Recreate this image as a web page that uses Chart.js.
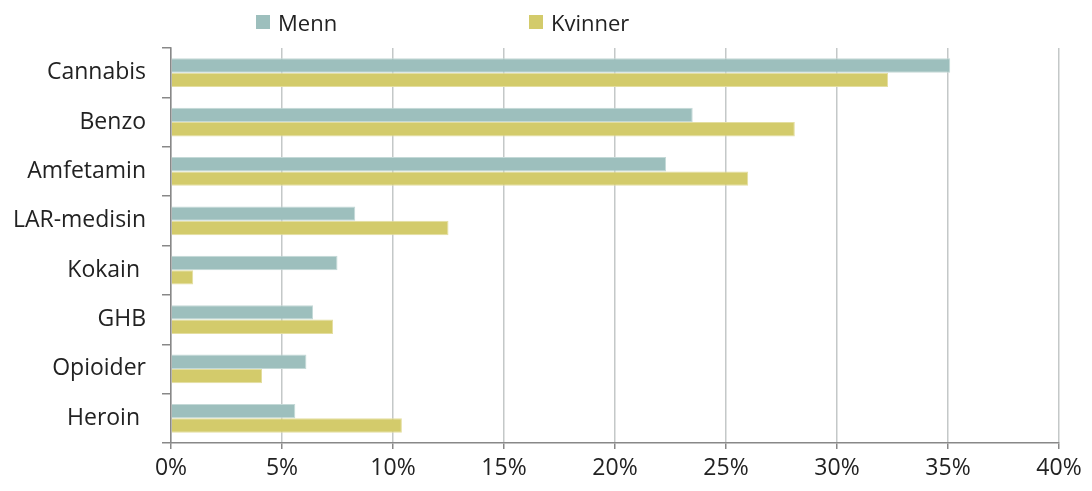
<!DOCTYPE html>
<html>
<head>
<meta charset="utf-8">
<script src="https://cdn.jsdelivr.net/npm/chart.js@4/dist/chart.umd.min.js"></script>
<style>
    body { margin: 0; background: #fff; }
    #wrap { position: relative; width: 1092px; height: 491px; }
    #legend { position: absolute; top: 6px; left: 0; width: 1092px; height: 32px;
              font-family: "Open Sans", sans-serif; font-size: 22px; color: #222; }
    .item { position: absolute; top: 0; display: flex; align-items: center; height: 32px; }
    .box { width: 14px; height: 14px; margin-right: 8px; }
</style>
</head>
<body>
<div id="wrap">
    <canvas id="chart" width="1092" height="491"></canvas>
    <div id="legend">
        <div class="item" style="left:256px"><span class="box" style="background:#9dbfbd"></span>Menn</div>
        <div class="item" style="left:529px"><span class="box" style="background:#d3cb6b"></span>Kvinner</div>
    </div>
</div>
<script>
"use strict";

const categories = ["Cannabis", "Benzo", "Amfetamin", "LAR-medisin", "Kokain ", "GHB", "Opioider", "Heroin "];
const menn = [35.1, 23.5, 22.3, 8.3, 7.5, 6.4, 6.1, 5.6];
const kvinner = [32.3, 28.1, 26.0, 12.5, 1.0, 7.3, 4.1, 10.4];
const xTicks = [0, 5, 10, 15, 20, 25, 30, 35, 40];

const font = { family: "'Open Sans', sans-serif", size: 23 };

let ctx = document.getElementById('chart').getContext('2d');
let myChart = new Chart(ctx, {
    type: 'bar',
    data: {
        labels: categories,
        datasets: [{
            label: 'Menn',
            data: menn,
            backgroundColor: '#9dbfbd',
            borderColor: '#c4d9d7',
            borderWidth: 1,
            categoryPercentage: 0.58,
            barPercentage: 1.0
        }, {
            label: 'Kvinner',
            data: kvinner,
            backgroundColor: '#d3cb6b',
            borderColor: '#e4dea0',
            borderWidth: 1,
            categoryPercentage: 0.58,
            barPercentage: 1.0
        }]
    },
    options: {
        indexAxis: 'y',
        responsive: false,
        animation: false,
        layout: { padding: { top: 48, right: 33, left: 0, bottom: 0 } },
        plugins: {
            legend: { display: false },
            tooltip: { enabled: false }
        },
        scales: {
            x: {
                min: 0,
                max: 40,
                afterBuildTicks: scale => {
                    scale.ticks = xTicks.map(v => ({ value: v }));
                },
                afterFit: scale => { scale.height = 48; },
                ticks: {
                    callback: v => v + '%',
                    font: font,
                    color: '#222',
                    padding: 6,
                    maxRotation: 0
                },
                grid: {
                    color: '#c4c8c8',
                    lineWidth: 1.5,
                    tickColor: '#888',
                    tickLength: 6
                },
                border: { color: '#888', width: 1.5 }
            },
            y: {
                afterFit: scale => { scale.width = 171; },
                ticks: {
                    font: font,
                    color: '#222',
                    padding: 16
                },
                grid: {
                    drawOnChartArea: false,
                    tickColor: '#888',
                    tickLength: 9,
                    lineWidth: 1.5
                },
                border: { color: '#888', width: 1.5 }
            }
        }
    }
});
</script>
</body>
</html>
